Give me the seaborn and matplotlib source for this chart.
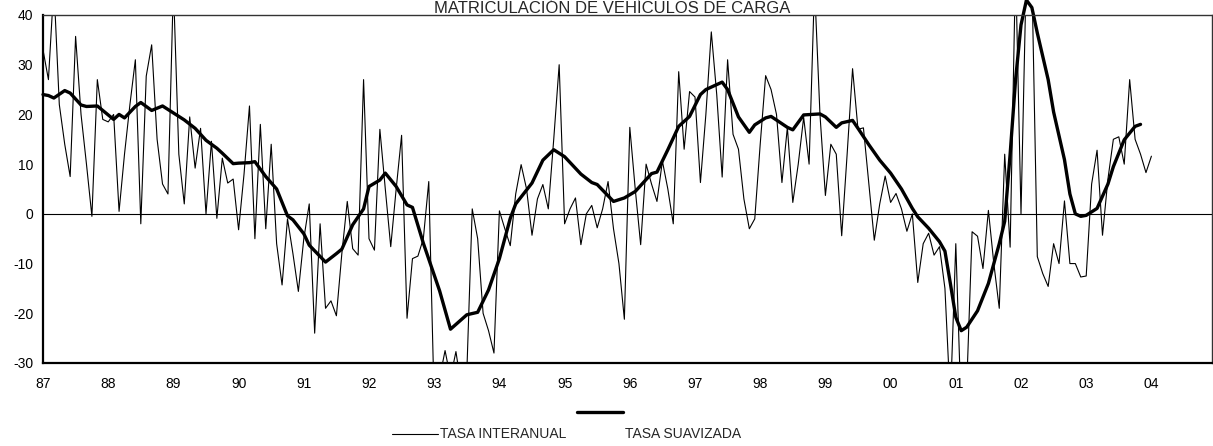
import numpy as np
import pandas as pd
import matplotlib.pyplot as plt
from matplotlib.lines import Line2D
import seaborn as sns

# Monthly year-on-year rate, Jan 1987 .. Jan 2004
tasa_interanual = [
    33, 27, 46, 22, 14, 7.5, 35.7, 20, 10, -0.5, 27, 19,            # 1987
    18.5, 20, 0.5, 12, 22, 31, -2, 27.7, 34, 15, 6, 4,              # 1988
    46, 12, 2, 19.5, 9.2, 17.2, 0, 14.6, -0.9, 11.2, 6.2, 7,        # 1989
    -3.2, 8, 21.7, -5, 18, -3, 14, -6, -14.3, -1, -8, -15.6,        # 1990
    -5, 2, -24, -2, -19, -17.5, -20.5, -8, 2.5, -7, -8.3, 27,       # 1991
    -5, -7.3, 17, 5, -6.6, 5, 15.8, -21, -9, -8.5, -5, 6.5,         # 1992
    -38, -33, -27.5, -33, -27.7, -35, -32, 1, -5, -20, -23.5, -28,  # 1993
    0.6, -3, -6.4, 4, 9.9, 5, -4.3, 3, 5.9, 1, 15, 30,              # 1994
    -2, 1, 3.2, -6.2, 0, 1.7, -2.8, 1, 6.5, -3, -10, -21.2,         # 1995
    17.4, 5, -6.2, 10, 6, 2.5, 10.6, 5, -2, 28.6, 13, 24.6,         # 1996
    23.5, 6.3, 20, 36.6, 24, 7.4, 31, 16, 13, 3, -3, -1,            # 1997
    14, 27.8, 25, 20, 6.3, 17.4, 2.3, 10, 19.4, 10, 46, 20,         # 1998
    3.7, 14, 12, -4.4, 12, 29.2, 17, 17.3, 6, -5.3, 2, 7.6,         # 1999
    2.3, 4.1, 1, -3.5, 0, -13.8, -6, -3.9, -8.3, -6.6, -15, -38,    # 2000
    -6, -40, -35, -3.6, -4.5, -11, 0.7, -10, -19, 12, -6.7, 50,     # 2001
    0, 50, 48, -8.6, -12, -14.6, -6, -10, 2.6, -10, -10, -12.7,     # 2002
    -12.5, 6, 12.8, -4.3, 7, 15, 15.5, 10, 27, 15, 12, 8.3,         # 2003
    11.6,                                                           # 2004
]

# Smoothed rate: month number (0 = Jan 1987) and value
suav_mes = [0, 1, 2, 4, 5, 7, 8, 10, 12, 13, 14, 15, 17, 18, 20, 22, 24, 26, 28, 30,
            32, 33, 35, 36, 38, 39, 41, 43, 45, 46, 48, 49, 52, 54, 55, 57, 59, 60, 62, 63,
            65, 67, 68, 70, 73, 75, 78, 80, 82, 84, 86, 87, 90, 92, 94, 96, 99, 101, 102, 105,
            107, 109, 112, 113, 115, 117, 119, 121, 122, 125, 126, 128, 130, 131, 133, 134, 137, 138, 140, 143,
            144, 146, 147, 149, 150, 152, 154, 156, 158, 160, 161, 163, 165, 166, 167, 168, 169, 170, 172, 174,
            176, 177, 178, 179, 180, 181, 182, 183, 185, 186, 188, 189, 190, 191, 192, 194, 196, 197, 199, 201,
            202]
suav_val = [24, 23.8, 23.3, 24.8, 24.3, 21.9, 21.6, 21.7, 19.9, 19, 20, 19.3, 21.6, 22.4, 20.8, 21.7, 20.3, 18.9, 17.2, 14.8,
            13.2, 12.2, 10.1, 10.2, 10.3, 10.5, 7.5, 5, -0.4, -1.2, -4, -6.3, -9.7, -8, -7.1, -2.2, 1, 5.5, 6.8, 8.2,
            5.5, 1.8, 1.3, -5.9, -15.5, -23.2, -20.3, -19.8, -15.3, -9, -0.9, 2, 6.2, 10.8, 12.9, 11.5, 8, 6.3, 5.9, 2.5,
            3.2, 4.5, 8.1, 8.4, 12.9, 17.6, 19.6, 24, 25, 26.5, 25, 19.5, 16.4, 17.9, 19.3, 19.6, 17.4, 16.9, 19.9, 20.1,
            19.5, 17.4, 18.3, 18.8, 17.2, 13.9, 10.8, 8.2, 5, 1.1, -0.6, -2.9, -5.6, -7.5, -14, -20.8, -23.5, -22.8, -19.5, -14,
            -6, -1.5, 12, 27, 38, 43, 41.5, 36.4, 27, 20.5, 10.9, 4, 0, -0.5, -0.3, 1.1, 6, 9.5, 14.9, 17.6,
            18]

anios = list(range(1987, 2005))
etiquetas = [f'{a % 100:02d}' for a in anios]

inter = pd.DataFrame({'fecha': 1987 + np.arange(len(tasa_interanual)) / 12,
                      'tasa': tasa_interanual})
suav = pd.DataFrame({'fecha': 1987 + np.array(suav_mes) / 12, 'tasa': suav_val})

sns.set_style('white')
plt.rcParams['font.family'] = ['Liberation Sans', 'DejaVu Sans']
plt.rcParams['axes.unicode_minus'] = False

fig = plt.figure(figsize=(12.13, 4.46), dpi=100)
ax = fig.add_axes([43 / 1213, 1 - 363 / 446, 1169 / 1213, 348 / 446])

sns.lineplot(data=inter, x='fecha', y='tasa', color='black', lw=0.8, ax=ax)
sns.lineplot(data=suav, x='fecha', y='tasa', color='black', lw=2.4, ax=ax)
ax.lines[1].set_clip_on(False)
ax.axhline(0, color='black', lw=0.8, zorder=0)

ax.set_xlim(1987, 1987 + 1169 / 65.2)
ax.set_ylim(-30, 40)
ax.set_xticks(anios)
ax.set_xticklabels(etiquetas)
ax.set_yticks(range(-30, 41, 10))
ax.set_xlabel('')
ax.set_ylabel('')
ax.tick_params(axis='both', direction='out', length=4, width=1, color='black',
               labelsize=10, labelcolor='black')
ax.tick_params(axis='x', pad=6)
ax.tick_params(axis='y', pad=3)
for lado in ['left', 'bottom']:
    ax.spines[lado].set_linewidth(1.6)
    ax.spines[lado].set_color('black')
for lado in ['top', 'right']:
    ax.spines[lado].set_linewidth(1.0)
    ax.spines[lado].set_color('#333333')

fig.text(0.505, 1 - 13 / 446, 'MATRICULACIÓN DE VEHÍCULOS DE CARGA',
         ha='center', va='baseline', fontsize=12)

# legend (Excel-style layout below the chart)
fig.add_artist(Line2D([392 / 1213, 438 / 1213], [1 - 434 / 446] * 2,
                      color='black', lw=0.8, transform=fig.transFigure))
fig.text(440 / 1213, 1 - 434 / 446, 'TASA INTERANUAL', ha='left', va='center', fontsize=10)
fig.add_artist(Line2D([577 / 1213, 623 / 1213], [1 - 412 / 446] * 2,
                      color='black', lw=2.4, transform=fig.transFigure))
fig.text(625 / 1213, 1 - 434 / 446, 'TASA SUAVIZADA', ha='left', va='center', fontsize=10)

fig.savefig('out.png', dpi=100)
